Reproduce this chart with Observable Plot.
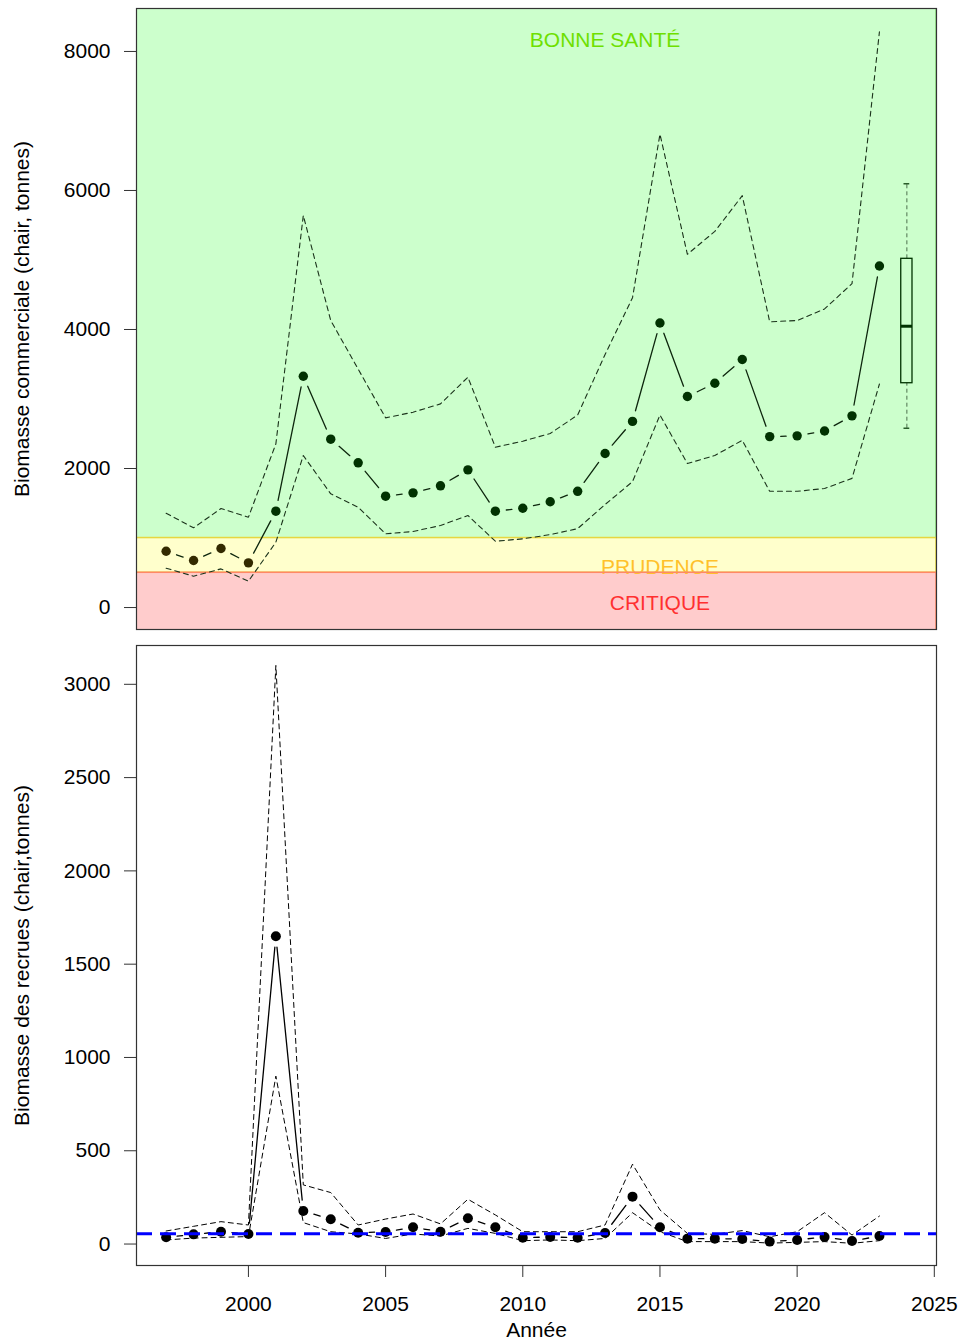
<!DOCTYPE html>
<html><head><meta charset="utf-8">
<script src="https://cdn.jsdelivr.net/npm/d3@7"></script>
<script src="https://cdn.jsdelivr.net/npm/@observablehq/plot@0.6"></script>
<style>
body{margin:0;background:#fff;}
#wrap{position:relative;width:962px;height:1339px;font-family:"Liberation Sans",Arial,sans-serif;}
#top{position:absolute;left:0;top:0;}
#bot{position:absolute;left:0;top:640px;}
svg{display:block;}
</style></head><body><div id="wrap"><div id="top"></div><div id="bot"></div></div>
<script>
// ---------- data ----------
const years = [1997,1998,1999,2000,2001,2002,2003,2004,2005,2006,2007,2008,2009,2010,2011,2012,2013,2014,2015,2016,2017,2018,2019,2020,2021,2022,2023];
// Commercial biomass (meat, tonnes)
const commBiomass = [810,676,849,643,1386,3328,2422,2082,1602,1650,1751,1981,1386,1429,1522,1672,2216,2678,4094,3036,3227,3568,2459,2470,2540,2758,4914];
const commUpper   = [1357,1147,1424,1300,2355,5640,4129,3430,2729,2810,2930,3314,2307,2393,2504,2770,3640,4458,6810,5082,5411,5925,4111,4129,4296,4660,8283];
const commLower   = [566,451,556,379,940,2187,1636,1443,1060,1094,1180,1324,954,988,1049,1135,1482,1811,2770,2072,2187,2406,1672,1672,1712,1858,3216];
// Projection boxplot (min, q1, median, q3, max)
const boxYear = 2024;
const boxStats = [2580,3227,4047,5017,6096];
// Zones
const zoneNames = ["BONNE SANTÉ","PRUDENCE","CRITIQUE"];
const zoneBounds = [1000,500];
// Recruit biomass
const recruits = [36,52,66,54,1650,177,133,61,65,90,66,138,90,34,38,34,59,254,90,29,29,27,13,22,38,16,43];
const recUpper = [70,95,120,102,3101,317,276,102,134,161,108,240,156,66,66,66,102,428,183,57,52,72,39,66,168,48,150];
const recLower = [22,32,36,40,900,115,66,54,30,54,43,84,57,18,22,18,30,168,66,13,13,13,5,9,13,4,18];
const recRef = 55;
// Tick labels
const commTicks = [0,2000,4000,6000,8000];
const recTicks = [0,500,1000,1500,2000,2500,3000];
const yearTicks = [2000,2005,2010,2015,2020,2025];
const labels = {
  commY: "Biomasse commerciale (chair, tonnes)",
  recY: "Biomasse des recrues (chair,tonnes)",
  x: "Année"
};

// ---------- build tables ----------
const comm = years.map((y,i)=>({year:y, v:commBiomass[i], hi:commUpper[i], lo:commLower[i]}));
const rec = years.map((y,i)=>({year:y, v:recruits[i], hi:recUpper[i], lo:recLower[i]}));
const segs = rows => d3.pairs(rows).map(([a,b])=>({x1:a.year,y1:a.v,x2:b.year,y2:b.v}));

const xDomain = [1995.92, 2025.08];
const font = {fontFamily:'"Liberation Sans", Arial, sans-serif', fontSize:"21px", background:"transparent", color:"#000", overflow:"visible"};
const fmt = d => String(d);

// ---------- top panel ----------
const topPlot = Plot.plot({
  width:962, height:640, marginLeft:136, marginRight:26, marginTop:8, marginBottom:11,
  style:font,
  x:{domain:xDomain, axis:null},
  y:{domain:[-316, 8618], axis:null},
  marks:[
    Plot.rect([0], {x1:xDomain[0], x2:xDomain[1], y1:zoneBounds[0], y2:9000, fill:"#ccffcc", clip:true}),
    Plot.rect([0], {x1:xDomain[0], x2:xDomain[1], y1:zoneBounds[1], y2:zoneBounds[0], fill:"#ffffcc", clip:true}),
    Plot.rect([0], {x1:xDomain[0], x2:xDomain[1], y1:-1000, y2:zoneBounds[1], fill:"#ffcccc", clip:true}),
    Plot.text([zoneNames[0]], {x:2013, y:8160, text:d=>d, fill:"#6ee000", fontSize:21}),
    Plot.text([zoneNames[1]], {x:2015, y:576, text:d=>d, fill:"#ffc12a", fontSize:21}),
    Plot.text([zoneNames[2]], {x:2015, y:58, text:d=>d, fill:"#ff3030", fontSize:21}),
    Plot.rect([0], {x1:xDomain[0], x2:xDomain[1], y1:zoneBounds[0], y2:9000, fill:"none", stroke:"#66cc55", clip:true}),
    Plot.rect([0], {x1:xDomain[0], x2:xDomain[1], y1:zoneBounds[1], y2:zoneBounds[0], fill:"none", stroke:"#e6d640", strokeWidth:1.5, clip:true}),
    Plot.rect([0], {x1:xDomain[0], x2:xDomain[1], y1:-1000, y2:zoneBounds[1], fill:"none", stroke:"#ff8866", strokeWidth:1.5, clip:true}),
    Plot.line(comm, {x:"year", y:"hi", stroke:"#1b331b", strokeWidth:1.1, strokeDasharray:"5,4"}),
    Plot.line(comm, {x:"year", y:"lo", stroke:"#1b331b", strokeWidth:1.1, strokeDasharray:"5,4"}),
    Plot.arrow(segs(comm), {x1:"x1", y1:"y1", x2:"x2", y2:"y2", headLength:0, inset:11, stroke:"#0d260d", strokeWidth:1.3}),
    Plot.dot(comm, {filter:d=>d.v>=zoneBounds[0], x:"year", y:"v", r:4.7, fill:"#013201", stroke:"none"}),
    Plot.dot(comm, {filter:d=>d.v<zoneBounds[0], x:"year", y:"v", r:4.7, fill:"#332a00", stroke:"none"}),
    // boxplot
    Plot.ruleX([boxYear], {y1:boxStats[0], y2:boxStats[1], stroke:"#4d704d", strokeDasharray:"4,3"}),
    Plot.ruleX([boxYear], {y1:boxStats[3], y2:boxStats[4], stroke:"#4d704d", strokeDasharray:"4,3"}),
    Plot.ruleY([boxStats[0], boxStats[4]], {x1:boxYear-0.105, x2:boxYear+0.105, stroke:"#003300", strokeWidth:1.2}),
    Plot.rect([0], {x1:boxYear-0.205, x2:boxYear+0.205, y1:boxStats[1], y2:boxStats[3], fill:"none", stroke:"#003300", strokeWidth:1.3}),
    Plot.ruleY([boxStats[2]], {x1:boxYear-0.205, x2:boxYear+0.205, stroke:"#003300", strokeWidth:3}),
    Plot.axisY({ticks:commTicks, tickFormat:fmt, tickSize:12, tickPadding:14, fontSize:21, stroke:"#333", label:null}),
    Plot.text([labels.commY], {frameAnchor:"left", textAnchor:"middle", lineAnchor:"middle", rotate:-90, dx:-114, text:d=>d, fontSize:21, fill:"#000"}),
    Plot.frame({stroke:"#333", strokeWidth:1.2})
  ]
});
document.getElementById("top").append(topPlot);

// ---------- bottom panel ----------
const botPlot = Plot.plot({
  width:962, height:699, marginLeft:136, marginRight:26, marginTop:5, marginBottom:74,
  style:font,
  x:{domain:xDomain, axis:null},
  y:{domain:[-115, 3208], axis:null},
  marks:[
    Plot.line(rec, {x:"year", y:"hi", stroke:"#000", strokeWidth:1, strokeDasharray:"5,4"}),
    Plot.line(rec, {x:"year", y:"lo", stroke:"#000", strokeWidth:1, strokeDasharray:"5,4"}),
    Plot.arrow(segs(rec), {x1:"x1", y1:"y1", x2:"x2", y2:"y2", headLength:0, inset:11, stroke:"#000", strokeWidth:1.3}),
    Plot.dot(rec, {x:"year", y:"v", r:5, fill:"#000", stroke:"none"}),
    Plot.ruleY([recRef], {stroke:"#0000ff", strokeWidth:3, strokeDasharray:"16,8"}),
    Plot.axisY({ticks:recTicks, tickFormat:fmt, tickSize:12, tickPadding:14, fontSize:21, stroke:"#333", label:null}),
    Plot.axisX({ticks:yearTicks, tickFormat:fmt, tickSize:12, tickPadding:19, fontSize:21, stroke:"#333", label:null}),
    Plot.text([labels.recY], {frameAnchor:"left", textAnchor:"middle", lineAnchor:"middle", rotate:-90, dx:-114, text:d=>d, fontSize:21, fill:"#000"}),
    Plot.text([labels.x], {frameAnchor:"bottom", lineAnchor:"middle", dy:65, text:d=>d, fontSize:21, fill:"#000"}),
    Plot.frame({stroke:"#333", strokeWidth:1.2})
  ]
});
document.getElementById("bot").append(botPlot);
</script>
</body></html>
